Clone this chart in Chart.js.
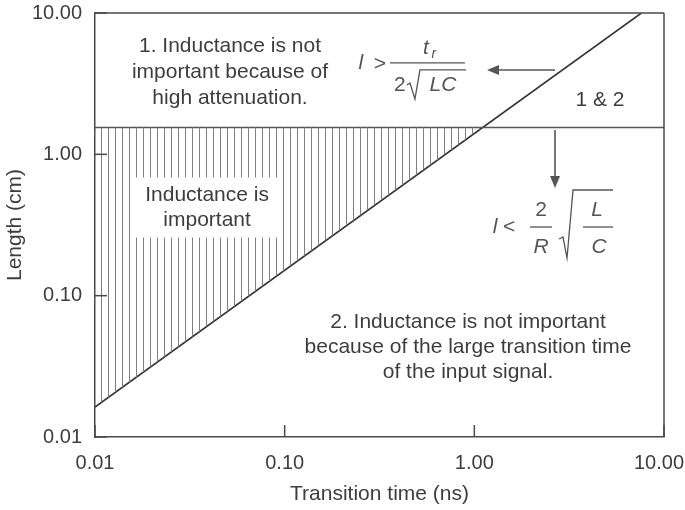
<!DOCTYPE html>
<html>
<head>
<meta charset="utf-8">
<script src="https://cdn.jsdelivr.net/npm/chart.js@4.4.1/dist/chart.umd.min.js"></script>
<style>
  html, body { margin: 0; padding: 0; background: #fff; }
</style>
</head>
<body>
<canvas id="chart" width="685" height="510"></canvas>
<script>
// Inductance importance chart - log/log

const xTicks = [0.01, 0.1, 1, 10];
const xTickLabels = ['0.01', '0.10', '1.00', '10.00\u2002'];
const yTicks = [0.01, 0.1, 1, 10];
const yTickLabels = ['0.01', '0.10', '1.00', '10.00'];

// l = tr / (2 sqrt(LC)) boundary
const boundaryX = [0.01, 7.6];
const boundaryY = [0.0163, 10];
// l = 2/R sqrt(L/C) limit
const limitX = [0.01, 10];
const limitY = [1.55, 1.55];
// hatched region (inductance important)
const hatchX = [0.01, 1.10];
const hatchY = [0.0163, 1.55];
const hatchTopY = [1.55, 1.55];

const TEXT = '#3d3d3d';
const INK = '#4a4a4a';
const FONT = '"Liberation Sans", Arial, sans-serif';

function pts(xs, ys){ return xs.map((x, i) => ({x, y: ys[i]})); }

const canvas = document.getElementById('chart');
const ctx0 = canvas.getContext('2d');

function hatchPattern(){
  const c = document.createElement('canvas');
  c.width = 7; c.height = 7;
  const g = c.getContext('2d');
  g.strokeStyle = '#808080';
  g.lineWidth = 1;
  g.beginPath(); g.moveTo(3.5, 0); g.lineTo(3.5, 7); g.stroke();
  return ctx0.createPattern(c, 'repeat');
}

// text blocks, anchored in data space
const notes = [
  {x: 0.0515, y: 3.824, gap: 26, lines: ['1. Inductance is not', 'important because of', 'high attenuation.']},
  {x: 0.0390, y: 0.4207, gap: 25, box: [143, 60], lines: ['Inductance is', 'important']},
  {x: 4.597, y: 2.424, gap: 0, lines: ['1 & 2']},
  {x: 0.926, y: 0.0433, gap: 25, lines: ['2. Inductance is not important', 'because of the large transition time', 'of the input signal.']}
];

function line(ctx, x1, y1, x2, y2){
  ctx.beginPath(); ctx.moveTo(x1, y1); ctx.lineTo(x2, y2); ctx.stroke();
}

function arrow(ctx, x1, y1, x2, y2){
  const a = Math.atan2(y2 - y1, x2 - x1);
  const len = 12, hw = 5;
  line(ctx, x1, y1, x2 - Math.cos(a) * len, y2 - Math.sin(a) * len);
  ctx.beginPath();
  ctx.moveTo(x2, y2);
  ctx.lineTo(x2 - Math.cos(a) * len - Math.sin(a) * hw, y2 - Math.sin(a) * len + Math.cos(a) * hw);
  ctx.lineTo(x2 - Math.cos(a) * len + Math.sin(a) * hw, y2 - Math.sin(a) * len - Math.cos(a) * hw);
  ctx.closePath();
  ctx.fill();
}

function txt(ctx, s, x, y, style){
  ctx.font = (style || '') + ' 21px ' + FONT;
  ctx.fillText(s, x, y);
}

// l > tr / (2 sqrt(LC)), anchored at left end of fraction bar
function formulaHigh(ctx, px, py){
  txt(ctx, 'l', px - 29, py, 'italic');
  txt(ctx, '>', px - 10, py + 1);
  line(ctx, px, py, px + 75, py);
  txt(ctx, 't', px + 36, py - 15, 'italic');
  ctx.font = 'italic 14px ' + FONT;
  ctx.fillText('r', px + 44, py - 9);
  txt(ctx, '2', px + 10, py + 22);
  ctx.beginPath();
  ctx.moveTo(px + 17, py + 22); ctx.lineTo(px + 20, py + 20);
  ctx.lineTo(px + 25, py + 36); ctx.lineTo(px + 30, py + 7); ctx.lineTo(px + 76, py + 7);
  ctx.stroke();
  txt(ctx, 'LC', px + 53, py + 22, 'italic');
}

// l < 2/R sqrt(L/C), anchored at left end of 2/R bar
function formulaLow(ctx, px, py){
  txt(ctx, 'l', px - 35, py, 'italic');
  txt(ctx, '<', px - 21, py);
  line(ctx, px, py, px + 22, py);
  txt(ctx, '2', px + 11, py - 17);
  txt(ctx, 'R', px + 11, py + 20, 'italic');
  ctx.beginPath();
  ctx.moveTo(px + 29, py + 12); ctx.lineTo(px + 33, py + 10);
  ctx.lineTo(px + 37, py + 31); ctx.lineTo(px + 43, py - 37); ctx.lineTo(px + 83, py - 37);
  ctx.stroke();
  line(ctx, px + 53, py, px + 83, py);
  txt(ctx, 'L', px + 67, py - 17, 'italic');
  txt(ctx, 'C', px + 69, py + 20, 'italic');
}

const annotations = {
  id: 'annotations',
  afterDatasetsDraw(chart){
    const {ctx, chartArea: a, scales: {x, y}} = chart;
    const px = v => x.getPixelForValue(v);
    const py = v => y.getPixelForValue(v);
    ctx.save();

    // frame: top + right, inward tick marks
    ctx.strokeStyle = INK;
    ctx.lineWidth = 1.5;
    line(ctx, a.left, a.top, a.right, a.top);
    line(ctx, a.right, a.top, a.right, a.bottom);
    xTicks.forEach(v => line(ctx, px(v), a.bottom, px(v), a.bottom - 12));
    yTicks.forEach(v => line(ctx, a.left, py(v), a.left + 12, py(v)));

    ctx.textAlign = 'center';
    ctx.textBaseline = 'middle';
    notes.forEach(n => {
      const cx = px(n.x), cy = py(n.y);
      if(n.box){
        ctx.fillStyle = '#fff';
        ctx.fillRect(cx - n.box[0] / 2, cy - n.box[1] / 2, n.box[0], n.box[1]);
      }
      ctx.fillStyle = TEXT;
      ctx.font = '21px ' + FONT;
      const off = (n.lines.length - 1) * n.gap / 2;
      n.lines.forEach((s, i) => ctx.fillText(s, cx, cy - off + i * n.gap));
    });

    ctx.fillStyle = '#555';
    ctx.strokeStyle = '#555';
    ctx.lineWidth = 1.3;
    formulaHigh(ctx, px(0.359), py(4.43));
    formulaLow(ctx, px(1.966), py(0.306));

    ctx.lineWidth = 1.6;
    arrow(ctx, px(2.663), py(3.953), px(1.166), py(3.953));
    arrow(ctx, px(2.663), py(1.486), px(2.663), py(0.578));
    ctx.restore();
  }
};

new Chart(canvas, {
  type: 'line',
  data: {
    datasets: [
      { data: pts(hatchX, hatchTopY), borderWidth: 0, borderColor: 'transparent', pointRadius: 0, fill: false },
      { data: pts(hatchX, hatchY), borderWidth: 0, borderColor: 'transparent', pointRadius: 0,
        fill: 0, backgroundColor: hatchPattern() },
      { data: pts(limitX, limitY), borderColor: '#555', borderWidth: 1.5, pointRadius: 0, fill: false },
      { data: pts(boundaryX, boundaryY), borderColor: '#333', borderWidth: 1.6, pointRadius: 0, fill: false }
    ]
  },
  options: {
    responsive: false,
    animation: false,
    layout: { padding: { left: 0, right: 21, top: 13, bottom: 0 } },
    plugins: { legend: { display: false }, tooltip: { enabled: false } },
    scales: {
      x: {
        type: 'logarithmic',
        min: 0.01, max: 10,
        afterBuildTicks: s => { s.ticks = xTicks.map(v => ({value: v})); },
        afterFit: s => { s.height = 73; s.paddingLeft = 0; s.paddingRight = 0; },
        ticks: {
          callback: v => xTickLabels[xTicks.indexOf(v)],
          maxRotation: 0, autoSkip: false, padding: 14,
          color: TEXT, font: { family: FONT, size: 20 }
        },
        grid: { drawOnChartArea: false, drawTicks: false },
        border: { display: true, color: INK, width: 1.5 },
        title: { display: true, text: 'Transition time (ns)', color: TEXT,
                 font: { family: FONT, size: 21 }, padding: { top: 0, bottom: 3 } }
      },
      y: {
        type: 'logarithmic',
        min: 0.01, max: 10,
        afterBuildTicks: s => { s.ticks = yTicks.map(v => ({value: v})); },
        afterFit: s => { s.width = 95; s.paddingTop = 0; s.paddingBottom = 0; },
        ticks: {
          callback: v => yTickLabels[yTicks.indexOf(v)],
          autoSkip: false, padding: 13,
          color: TEXT, font: { family: FONT, size: 20 }
        },
        grid: { drawOnChartArea: false, drawTicks: false },
        border: { display: true, color: INK, width: 1.5 },
        title: { display: true, text: 'Length (cm)', color: TEXT,
                 font: { family: FONT, size: 21 }, padding: { top: 3, bottom: 0 } }
      }
    }
  },
  plugins: [annotations]
});
</script>
</body>
</html>
